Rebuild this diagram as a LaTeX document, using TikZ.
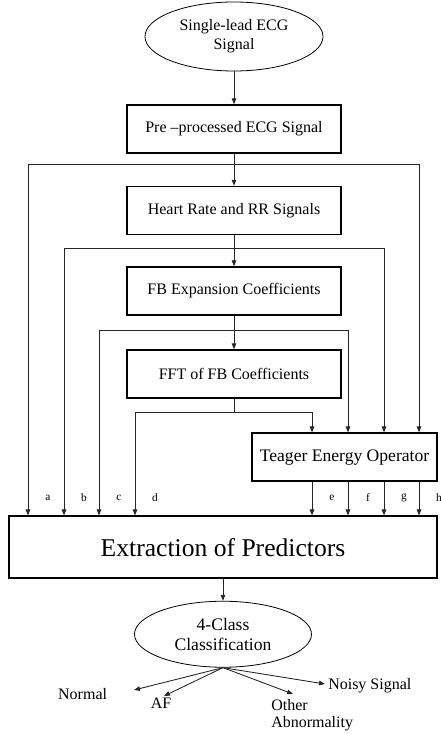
\documentclass[tikz,border=0pt]{standalone}
\usepackage{fontspec}
\setmainfont{Liberation Serif}
\usetikzlibrary{shapes.geometric,arrows.meta,positioning}

\begin{document}
\begin{tikzpicture}[x=0.75pt,y=-0.75pt,on grid,
  >={Triangle[length=4.5pt,width=3.4pt]},
  box/.style={draw,line width=1.1pt,minimum width=160.5pt,minimum height=36pt,
    font=\fontsize{12}{14}\selectfont},
  oval/.style={draw,ellipse,line width=0.6pt,align=center,inner sep=1pt},
  wire/.style={->,line width=0.65pt,black!85},
  lbl/.style={font=\fontsize{8.5}{10}\selectfont,inner sep=0pt},
  classlbl/.style={font=\fontsize{12}{12.75}\selectfont,inner sep=0pt,align=left}]
\useasboundingbox (0,0) rectangle (440,734);

% boxes
\node[oval,minimum width=133.5pt,minimum height=51.75pt,font=\fontsize{12}{14}\selectfont]
  (sig) at (234,36.5) {Single-lead ECG\\Signal};
\node[box] (pre) [below=69.4pt of sig] {Pre --processed ECG Signal};
\node[box] (hr) [below=61.1pt of pre] {Heart Rate and RR Signals};
\node[box] (fb) [below=60.4pt of hr] {FB Expansion Coefficients};
\node[box] (fft) [below=62.3pt of fb] {FFT of FB Coefficients};
\node[box,minimum width=138.75pt,font=\fontsize{13.2}{15}\selectfont] (teo)
  [below right=62.3pt and 82.9pt of fft] {Teager Energy Operator};
\node[box,minimum width=321pt,minimum height=46.5pt,font=\fontsize{19.2}{22}\selectfont] (ext)
  [below left=129.8pt and 8.25pt of fft] {Extraction of Predictors};
\node[oval,minimum width=132.75pt,minimum height=49.5pt,font=\fontsize{13.2}{15}\selectfont]
  (cls) [below=65.3pt of ext] {4-Class\\Classification};

% branch points and columns
\coordinate (b1) at ([yshift=-8.25pt]pre.south);
\coordinate (b2) at ([yshift=-9.75pt]hr.south);
\coordinate (b3) at ([yshift=-11.25pt]fb.south);
\coordinate (b4) at ([yshift=-10.5pt]fft.south);
\foreach \n/\x in {a/28,b/64,c/99,d/135,e/312,f/348,g/384,h/419}
  \coordinate (x\n) at (\x,0);

% main chain
\draw[wire] (sig) -- (pre);
\draw[wire] (pre) -- (hr);
\draw[wire] (hr) -- (fb);
\draw[wire] (fb) -- (fft);
\draw[wire,-] (fft) -- (b4);

% side branches
\draw[wire] (b1) -| (ext.north -| xa);
\draw[wire] (b1) -| (teo.north -| xh);
\draw[wire] (b2) -| (ext.north -| xb);
\draw[wire] (b2) -| (teo.north -| xg);
\draw[wire] (b3) -| (ext.north -| xc);
\draw[wire] (b3) -| (teo.north -| xf);
\draw[wire] (b4) -| (ext.north -| xd);
\draw[wire] (b4) -| (teo.north -| xe);
\foreach \n in {e,f,g,h}
  \draw[wire] (teo.south -| x\n) -- (ext.north -| x\n);
\foreach \n in {a,...,h}
  \node[lbl,xshift=15pt,yshift=13.5pt] (l\n) at (ext.north -| x\n) {\n};

% classification
\draw[wire] (ext) -- (cls);
\coordinate (tn) at (134,690);
\coordinate (ta) at (164,696);
\coordinate (tb) at (293,694);
\coordinate (tz) at (325,684);
\foreach \t in {tn,ta,tb,tz}
  \draw[wire] (cls.south) -- (\t);
\node[classlbl,anchor=east] (nor) at ([xshift=-20pt,yshift=-3pt]tn) {Normal};
\node[classlbl] (af) at ([xshift=-2.25pt,yshift=-5.25pt]ta) {AF};
\node[classlbl,anchor=north west] (oth) at ([xshift=-16.5pt,yshift=-3.75pt]tb) {Other\\Abnormality};
\node[classlbl,anchor=west] (noi) at ([xshift=2.25pt,yshift=-1.5pt]tz) {Noisy Signal};
\end{tikzpicture}
\end{document}
